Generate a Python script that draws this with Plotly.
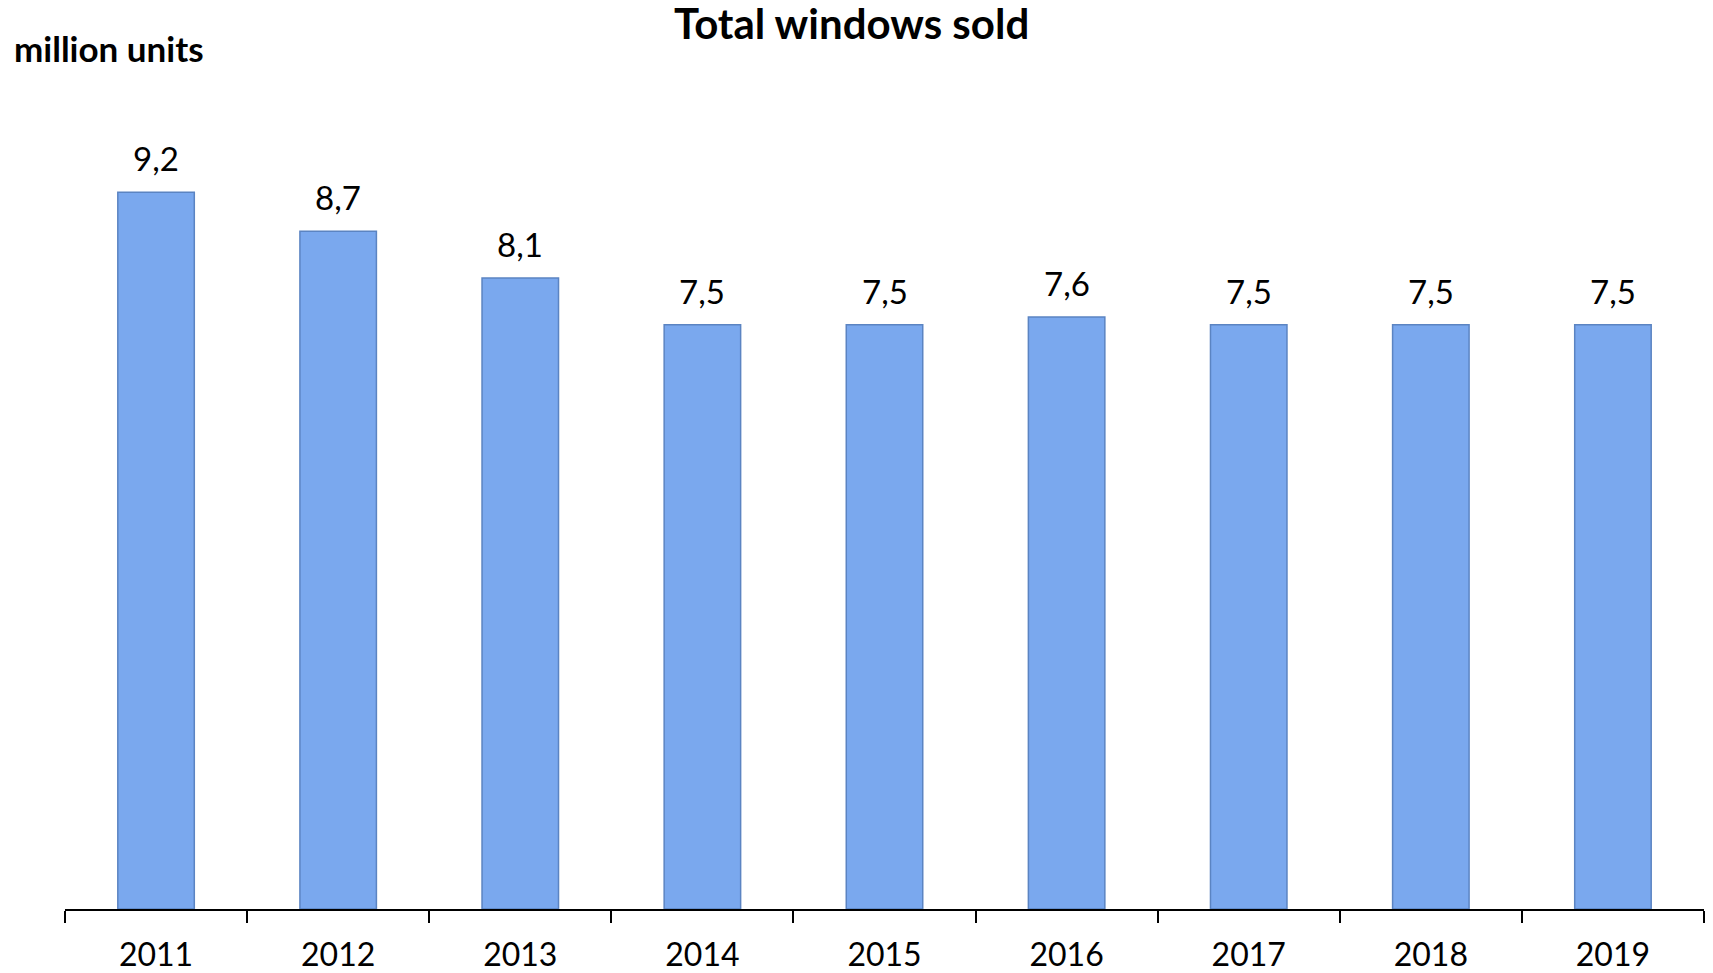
import plotly.graph_objects as go

years = ["2011", "2012", "2013", "2014", "2015", "2016", "2017", "2018", "2019"]
values = [9.2, 8.7, 8.1, 7.5, 7.5, 7.6, 7.5, 7.5, 7.5]
labels = ["9,2", "8,7", "8,1", "7,5", "7,5", "7,6", "7,5", "7,5", "7,5"]

FONT = "Lato"
W, H = 1705, 965
L, R, T, B = 57, 9, 92, 64
PW, PH = W - L - R, H - T - B

fig = go.Figure()
fig.add_trace(go.Bar(
    x=years, y=values,
    marker=dict(color="#7aa8ee", line=dict(color="#5b84c2", width=1.5)),
    width=0.42,
    hoverinfo="skip",
))

for i, (v, t) in enumerate(zip(values, labels)):
    fig.add_annotation(x=i, y=v, text=t, showarrow=False, yanchor="bottom",
                       yshift=12, font=dict(family=FONT, size=33, color="black"))

fig.add_annotation(text="<b>Total windows sold</b>", xref="paper", yref="paper",
                   x=(843 - L) / PW, y=(H - B + 12) / PH, xanchor="center", yanchor="top",
                   showarrow=False, font=dict(family=FONT, size=42, color="black"))
fig.add_annotation(text="<b>million units</b>", xref="paper", yref="paper",
                   x=(4 - L) / PW, y=(H - B - 40) / PH, xanchor="left", yanchor="middle",
                   showarrow=False, font=dict(family=FONT, size=35, color="black"))

fig.update_layout(
    width=W, height=H,
    margin=dict(l=L, r=R, t=T, b=B, autoexpand=False),
    paper_bgcolor="white", plot_bgcolor="white",
    showlegend=False,
    xaxis=dict(
        type="category", range=[-0.5, len(years) - 0.5],
        automargin=False,
        showline=True, linecolor="black", linewidth=1.5,
        ticks="outside", tickson="boundaries", ticklen=12, tickcolor="black", tickwidth=1.5,
        tickfont=dict(family=FONT, size=32, color="black"),
        ticklabelstandoff=17,
        showgrid=False,
    ),
    yaxis=dict(range=[0, 10.385], visible=False, showgrid=False, automargin=False),
)

fig.write_html("out.html")
